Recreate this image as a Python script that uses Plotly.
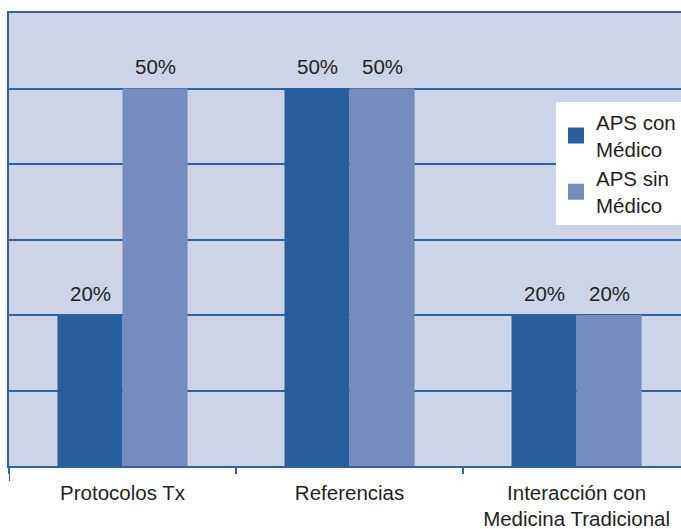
import plotly.graph_objects as go

categories = ["Protocolos Tx", "Referencias", "Interacción con<br>Medicina Tradicional"]
series_names = ["APS con<br>Médico", "APS sin<br>Médico"]
con_medico = [20, 50, 20]
sin_medico = [50, 50, 20]
series_values = [con_medico, sin_medico]
colors = ["#285E9D", "#758DBE"]

FONT = "Liberation Sans, Arial, sans-serif"
FS = 20.5
TXT = "#231F20"
LINE = "#2B64A2"

fig = go.Figure()
for name, vals, col in zip(series_names, series_values, colors):
    fig.add_trace(go.Bar(x=categories, y=vals, name=name, marker_color=col,
                         marker_line_width=0, showlegend=False))
    fig.add_trace(go.Scatter(x=[None], y=[None], mode="markers", name=name,
                             marker=dict(symbol="square", size=16, color=col)))

# value labels above bars
bar_half_px = 32.5
for i, vals in enumerate(series_values):
    shift = -bar_half_px if i == 0 else bar_half_px
    for c, v in zip(categories, vals):
        fig.add_annotation(x=c, y=v, text=f"{v}%", showarrow=False,
                           xshift=shift, yshift=22, yanchor="middle",
                           font=dict(family=FONT, size=FS, color=TXT))

# left axis extension below plot
fig.add_shape(type="line", xref="x", yref="paper", x0=-0.5, x1=-0.5, y0=0, y1=-0.033,
              line=dict(color=LINE, width=2))

fig.update_layout(
    width=681, height=529,
    margin=dict(l=9, r=0, t=13, b=63, autoexpand=False),
    paper_bgcolor="white", plot_bgcolor="#CED4E7",
    barmode="group", bargap=0.427, bargroupgap=0,
    font=dict(family=FONT, size=FS, color=TXT),
    legend=dict(x=0.814, y=0.803, xanchor="left", yanchor="top",
                bgcolor="white", borderwidth=0,
                font=dict(family=FONT, size=FS, color=TXT),
                tracegroupgap=0),
    xaxis=dict(range=[-0.5, 2.46], showline=True, linecolor=LINE, linewidth=2, mirror=True,
               tickson="boundaries", ticks="outside", ticklen=6, tickwidth=2, tickcolor=LINE,
               showgrid=False, tickangle=0, automargin=False, ticklabelstandoff=7,
               tickfont=dict(family=FONT, size=FS, color=TXT)),
    yaxis=dict(range=[0, 60], dtick=10, showticklabels=False, showgrid=True,
               gridcolor=LINE, gridwidth=2, showline=True, linecolor=LINE, linewidth=2,
               zeroline=False, ticks="", automargin=False),
)

fig.write_html("out.html", config={"displayModeBar": False},
               post_script="document.body.style.margin='0';document.body.style.overflow='hidden';")
